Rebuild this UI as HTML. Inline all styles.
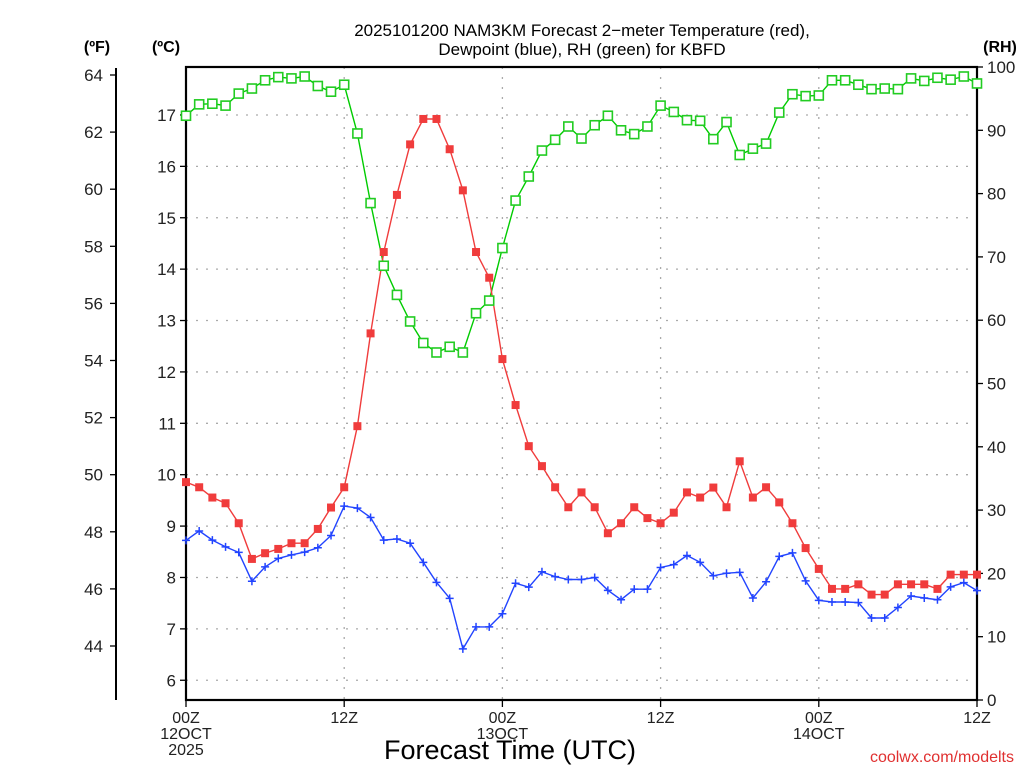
<!DOCTYPE html>
<html><head><meta charset="utf-8"><style>
html,body{margin:0;padding:0;background:#fff;}
svg{display:block;font-family:"Liberation Sans",sans-serif;}
</style></head><body>
<svg id="chart" width="1024" height="768" viewBox="0 0 1024 768" xmlns="http://www.w3.org/2000/svg">
<text x="582" y="36" text-anchor="middle" font-size="17">2025101200 NAM3KM Forecast 2−meter Temperature (red),</text>
<text x="582" y="55" text-anchor="middle" font-size="17">Dewpoint (blue), RH (green) for KBFD</text>
<text x="97" y="52" text-anchor="middle" font-size="16" font-weight="bold">(ºF)</text>
<text x="166" y="52" text-anchor="middle" font-size="16" font-weight="bold">(ºC)</text>
<text x="1000" y="52" text-anchor="middle" font-size="16" font-weight="bold">(RH)</text>
<g id="grid"></g>
<g id="axes"></g>
<g id="series"></g>
<text x="510" y="759" text-anchor="middle" font-size="27">Forecast Time (UTC)</text>
<text x="1014" y="762" text-anchor="end" font-size="16" fill="#e03030">coolwx.com/modelts</text>
</svg>
<script>
const tempF = [49.74,49.56,49.2,49.0,48.3,47.05,47.25,47.4,47.6,47.6,48.1,48.85,49.56,51.7,54.95,57.8,59.8,61.57,62.46,62.46,61.4,59.96,57.8,56.9,54.05,52.44,51.0,50.3,49.56,48.86,49.38,48.86,47.95,48.3,48.86,48.48,48.3,48.67,49.38,49.2,49.55,48.86,50.47,49.2,49.56,49.03,48.3,47.43,46.7,46.0,46.0,46.16,45.8,45.8,46.16,46.16,46.16,46.0,46.5,46.5,46.5];
const dewF = [47.7,48.03,47.71,47.47,47.28,46.27,46.77,47.07,47.19,47.29,47.44,47.87,48.9,48.83,48.5,47.71,47.75,47.6,46.93,46.23,45.67,43.9,44.67,44.67,45.13,46.2,46.06,46.6,46.43,46.33,46.33,46.4,45.95,45.62,45.99,45.99,46.75,46.85,47.17,46.93,46.46,46.55,46.58,45.68,46.25,47.14,47.26,46.28,45.6,45.54,45.54,45.52,44.98,44.98,45.35,45.75,45.68,45.62,46.07,46.22,45.94];
const rh = [92.3,94.1,94.2,93.9,95.8,96.6,97.9,98.4,98.2,98.5,97.0,96.1,97.2,89.5,78.5,68.6,64.0,59.8,56.4,54.9,55.8,54.9,61.1,63.1,71.4,78.9,82.7,86.8,88.5,90.6,88.7,90.8,92.3,90.0,89.4,90.6,93.9,92.9,91.6,91.5,88.6,91.3,86.1,87.1,87.9,92.8,95.7,95.4,95.5,97.9,97.9,97.2,96.5,96.6,96.5,98.2,97.8,98.3,98.0,98.5,97.4];
const fTicks = [44,46,48,50,52,54,56,58,60,62,64];
const cTicks = [6,7,8,9,10,11,12,13,14,15,16,17];
const rhTicks = [0,10,20,30,40,50,60,70,80,90,100];
const xTickHours = [0,12,24,36,48,60];
const xTickLabels = [["00Z","12OCT","2025"],["12Z"],["00Z","13OCT"],["12Z"],["00Z","14OCT"],["12Z"]];

const NS="http://www.w3.org/2000/svg";
const L=186,R=977,T=67,B=700;
const xH=h=>L+(R-L)*h/60;
const yF=f=>75+(64-f)*28.55;
const yC=c=>yF(c*1.8+32);
const yR=r=>B-(B-T)*r/100;
function mk(tag,attrs,parent,text){const e=document.createElementNS(NS,tag);for(const k in attrs)e.setAttribute(k,attrs[k]);if(text!==undefined)e.textContent=text;parent.appendChild(e);return e;}
const grid=document.getElementById('grid'),axes=document.getElementById('axes'),ser=document.getElementById('series');
cTicks.forEach(c=>{const y=yC(c);
 const g=mk('line',{x1:L,x2:R,y1:y,y2:y,stroke:'#aaa','stroke-width':1.3,'stroke-dasharray':'2 8'},grid);
 
 
 const t=mk('line',{x1:L-6,x2:L,y1:y,y2:y,stroke:'#000','stroke-width':1.3},axes);
 
 
 const l=mk('text',{x:L-10,y:y+6,'text-anchor':'end','font-size':17,fill:'#222'},axes,String(c));
 
 
});
[12,24,36,48].forEach(h=>{const x=xH(h);
 const g=mk('line',{x1:x,x2:x,y1:T,y2:B,stroke:'#aaa','stroke-width':1.3,'stroke-dasharray':'2 8'},grid);
 
 
});
const fl=mk('line',{x1:116,x2:116,y1:68,y2:700,stroke:'#000','stroke-width':2},axes);


fTicks.forEach(f=>{const y=yF(f);
 const t=mk('line',{x1:110,x2:116,y1:y,y2:y,stroke:'#000','stroke-width':1.3},axes);
 
 
 const l=mk('text',{x:103,y:y+6,'text-anchor':'end','font-size':17,fill:'#222'},axes,String(f));
 
 
});
rhTicks.forEach(r=>{const y=yR(r);
 const t=mk('line',{x1:R,x2:R+6,y1:y,y2:y,stroke:'#000','stroke-width':1.3},axes);
 
 
 const l=mk('text',{x:R+10,y:y+6,'font-size':17,fill:'#222'},axes,String(r));
 
 
});
xTickHours.forEach((h,i)=>{const x=xH(h);
 const t=mk('line',{x1:x,x2:x,y1:B,y2:B+7,stroke:'#000','stroke-width':1.3},axes);
 
 
 xTickLabels[i].forEach((s,j)=>{const l=mk('text',{x:x,y:B+23+j*16,'text-anchor':'middle','font-size':16,fill:'#222'},axes,s);
  
  
 });
});
const box=mk('rect',{x:L,y:T,width:R-L,height:B-T,fill:'none',stroke:'#000','stroke-width':2.2},axes);


function line(arr,fy,color,name){
 const pts=arr.map((v,i)=>xH(i).toFixed(1)+','+fy(v).toFixed(1)).join(' ');
 const p=mk('polyline',{points:pts,fill:'none',stroke:color,'stroke-width':1.4},ser);
 
 
}
line(rh,yR,'#00cc00','rh');
line(tempF,yF,'#f03c3c','temperature');
line(dewF,yF,'#2244ff','dewpoint');
rh.forEach((v,i)=>{const m=mk('rect',{x:xH(i)-4.5,y:yR(v)-4.5,width:9,height:9,fill:'#fff',stroke:'#22cc22','stroke-width':1.6},ser);
 
 
});
tempF.forEach((v,i)=>{const m=mk('rect',{x:xH(i)-4,y:yF(v)-4,width:8,height:8,fill:'#f03c3c'},ser);
 
 
});
dewF.forEach((v,i)=>{const x=xH(i),y=yF(v);
 const m=mk('path',{d:`M${x-4},${y}H${x+4}M${x},${y-4}V${y+4}`,stroke:'#2244ff','stroke-width':1.5},ser);
 
 
});
</script>
</body></html>
